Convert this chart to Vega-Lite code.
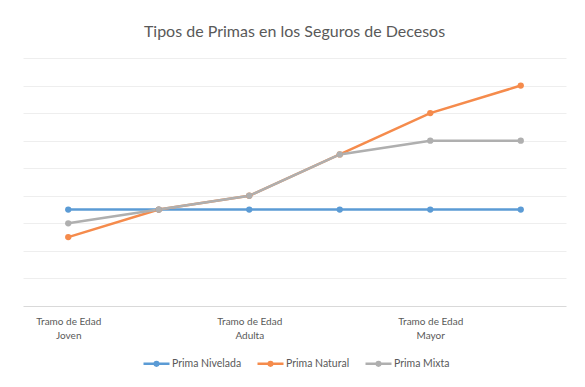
{
  "$schema": "https://vega.github.io/schema/vega-lite/v6.json",
  "width": 543,
  "height": 248,
  "autosize": {"type": "none"},
  "padding": {"left": 23, "top": 58, "right": 19, "bottom": 81},
  "background": "white",
  "title": {
    "text": "Tipos de Primas en los Seguros de Decesos",
    "font": "Lato",
    "fontSize": 16,
    "fontWeight": "normal",
    "color": "#595959",
    "offset": 18
  },
  "data": {
    "values": [
      {"tramo": 1, "serie": "Prima Nivelada", "valor": 3.5},
      {"tramo": 2, "serie": "Prima Nivelada", "valor": 3.5},
      {"tramo": 3, "serie": "Prima Nivelada", "valor": 3.5},
      {"tramo": 4, "serie": "Prima Nivelada", "valor": 3.5},
      {"tramo": 5, "serie": "Prima Nivelada", "valor": 3.5},
      {"tramo": 6, "serie": "Prima Nivelada", "valor": 3.5},
      {"tramo": 1, "serie": "Prima Natural", "valor": 2.5},
      {"tramo": 2, "serie": "Prima Natural", "valor": 3.5},
      {"tramo": 3, "serie": "Prima Natural", "valor": 4},
      {"tramo": 4, "serie": "Prima Natural", "valor": 5.5},
      {"tramo": 5, "serie": "Prima Natural", "valor": 7},
      {"tramo": 6, "serie": "Prima Natural", "valor": 8},
      {"tramo": 1, "serie": "Prima Mixta", "valor": 3},
      {"tramo": 2, "serie": "Prima Mixta", "valor": 3.5},
      {"tramo": 3, "serie": "Prima Mixta", "valor": 4},
      {"tramo": 4, "serie": "Prima Mixta", "valor": 5.5},
      {"tramo": 5, "serie": "Prima Mixta", "valor": 6},
      {"tramo": 6, "serie": "Prima Mixta", "valor": 6}
    ]
  },
  "mark": {"type": "line", "strokeWidth": 2.5, "point": {"size": 40, "filled": true, "opacity": 1}},
  "encoding": {
    "x": {
      "field": "tramo",
      "type": "quantitative",
      "scale": {"domain": [0.5, 6.5], "nice": false, "zero": false},
      "axis": {
        "title": null,
        "values": [1, 3, 5],
        "labelExpr": "datum.value == 1 ? ['Tramo de Edad', 'Joven'] : datum.value == 3 ? ['Tramo de Edad', 'Adulta'] : ['Tramo de Edad', 'Mayor']",
        "grid": false,
        "ticks": false,
        "domain": true,
        "domainColor": "#d9d9d9",
        "domainWidth": 1,
        "labelFont": "Lato",
        "labelFontSize": 10,
        "labelColor": "#595959",
        "labelPadding": 10,
        "labelLineHeight": 14,
        "labelFlush": false
      }
    },
    "y": {
      "field": "valor",
      "type": "quantitative",
      "scale": {"domain": [0, 9], "nice": false},
      "axis": {
        "title": null,
        "labels": false,
        "ticks": false,
        "domain": false,
        "values": [1, 2, 3, 4, 5, 6, 7, 8, 9],
        "grid": true,
        "gridColor": "#eeeeee",
        "gridWidth": 1
      }
    },
    "color": {
      "field": "serie",
      "type": "nominal",
      "sort": ["Prima Nivelada", "Prima Natural", "Prima Mixta"],
      "scale": {
        "domain": ["Prima Nivelada", "Prima Natural", "Prima Mixta"],
        "range": ["#5B9BD5", "#F58B4C", "#AFAFAF"]
      },
      "legend": {
        "title": null,
        "orient": "none",
        "legendX": 119,
        "legendY": 291,
        "direction": "horizontal",
        "labelFont": "Lato",
        "labelFontSize": 10.5,
        "labelColor": "#595959",
        "symbolType": "M-1,0L1,0M-0.14,0A0.14,0.14 0 1,0 0.14,0A0.14,0.14 0 1,0 -0.14,0",
        "symbolSize": 676,
        "symbolStrokeWidth": 2.5,
        "labelOffset": 1,
        "columnPadding": 10
      }
    },
    "order": {"field": "tramo"}
  },
  "config": {
    "view": {"stroke": null}
  }
}
